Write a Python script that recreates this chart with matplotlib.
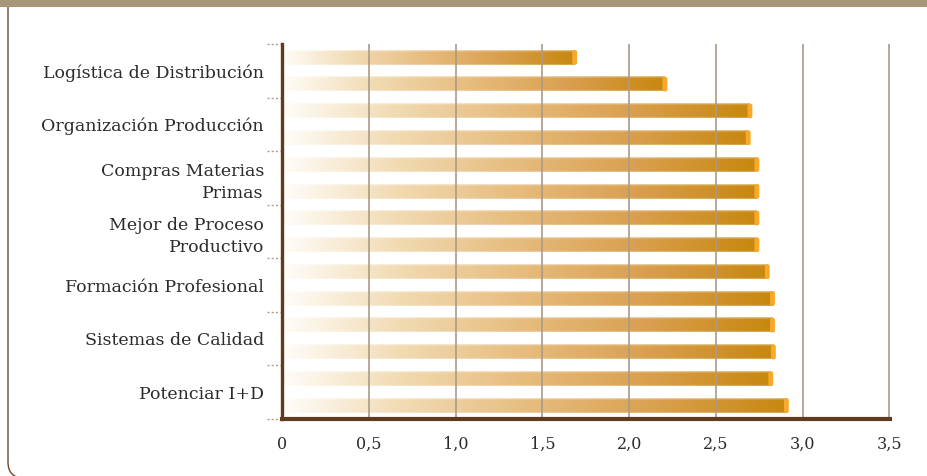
import numpy as np
import matplotlib.pyplot as plt
from matplotlib.colors import LinearSegmentedColormap
from matplotlib.patches import FancyBboxPatch, Rectangle
from matplotlib.transforms import IdentityTransform, blended_transform_factory

categorias = [
    'Logística de Distribución',
    'Organización Producción',
    'Compras Materias\nPrimas',
    'Mejor de Proceso\nProductivo',
    'Formación Profesional',
    'Sistemas de Calidad',
    'Potenciar I+D',
]
serie_a = [1.70, 2.71, 2.75, 2.75, 2.81, 2.84, 2.83]
serie_b = [2.22, 2.70, 2.75, 2.75, 2.84, 2.845, 2.92]
ticks_x = [0, 0.5, 1.0, 1.5, 2.0, 2.5, 3.0, 3.5]
etiquetas_x = ['0', '0,5', '1,0', '1,5', '2,0', '2,5', '3,0', '3,5']

plt.rcParams['font.family'] = ['DejaVu Serif']

fig = plt.figure(figsize=(9.27, 4.76), dpi=100)
ax = fig.add_axes([282 / 927, 1 - 419 / 476, 608 / 927, 375 / 476])

cmap = LinearSegmentedColormap.from_list('oro', [
    (0.00, '#fffdf9'),
    (0.25, '#f1d9b0'),
    (0.50, '#e6bb7c'),
    (0.75, '#d99f4e'),
    (1.00, '#c8870f'),
])

# degradado horizontal con brillo en los bordes
n_col, n_fil = 256, 14
base = cmap(np.linspace(0, 1, n_col))[:, :3]
img = np.repeat(base[None, :, :], n_fil, axis=0)
brillo = np.zeros(n_fil)
brillo[0] = 0.45
brillo[1] = 0.12
brillo[-1] = 0.25
img = img + (1 - img) * brillo[:, None, None]

valores = []
for a, b in zip(serie_a, serie_b):
    valores += [a, b]

alto = 0.54
cap_w = 0.028
for i, v in enumerate(valores):
    ax.imshow(img, extent=(0, v - cap_w * 0.5, i + alto / 2, i - alto / 2),
              aspect='auto', interpolation='bilinear', zorder=2)
    cap = FancyBboxPatch((v - cap_w, i - alto / 2), cap_w, alto,
                         boxstyle='round,pad=0,rounding_size=0.010',
                         mutation_aspect=6.5, facecolor='#f6a92a',
                         edgecolor='none', zorder=2.5)
    ax.add_patch(cap)

ax.set_xlim(0, 3.503)
ax.set_ylim(len(valores) - 0.5, -0.5)

ax.set_xticks(ticks_x)
ax.set_xticklabels(etiquetas_x, fontsize=11.5, color='#2b2b2b')
ax.set_yticks([2 * k + 0.5 for k in range(len(categorias))])
ax.set_yticklabels(categorias, fontsize=12.5, color='#2b2b2b',
                   linespacing=1.4, ha='right')
ax.tick_params(axis='x', length=0, pad=12)
ax.tick_params(axis='y', length=0, pad=13)

ax.grid(axis='x', color='#a99b88', linewidth=1.2, zorder=3)
ax.set_axisbelow(False)
for gl in ax.get_xgridlines():
    gl.set_zorder(3)

for lado in ['top', 'right']:
    ax.spines[lado].set_visible(False)
ax.spines['left'].set_color('#5e3c1c')
ax.spines['left'].set_linewidth(2.4)
ax.spines['bottom'].set_color('#5e3c1c')
ax.spines['bottom'].set_linewidth(3)
ax.spines['left'].set_zorder(5)
ax.spines['bottom'].set_zorder(5)

# marcas punteadas entre grupos
trans = blended_transform_factory(ax.transAxes, ax.transData)
for k in range(len(categorias) + 1):
    yb = 2 * k - 0.5
    ax.plot([-0.024, -0.004], [yb, yb], transform=trans, color='#b59e80',
            linewidth=1, linestyle=(0, (1.5, 1.5)), clip_on=False)

# marco de la figura
fig.patches.append(FancyBboxPatch((8, -2), 1200, 520, transform=IdentityTransform(),
                                  boxstyle='round,pad=0,rounding_size=16',
                                  facecolor='none', edgecolor='#6b4a2b',
                                  linewidth=1, zorder=0))
fig.patches.append(Rectangle((0, 1 - 7 / 476), 1, 7 / 476, transform=fig.transFigure,
                             facecolor='#a8967a', edgecolor='none', zorder=1))

fig.savefig('out.png', dpi=100)
